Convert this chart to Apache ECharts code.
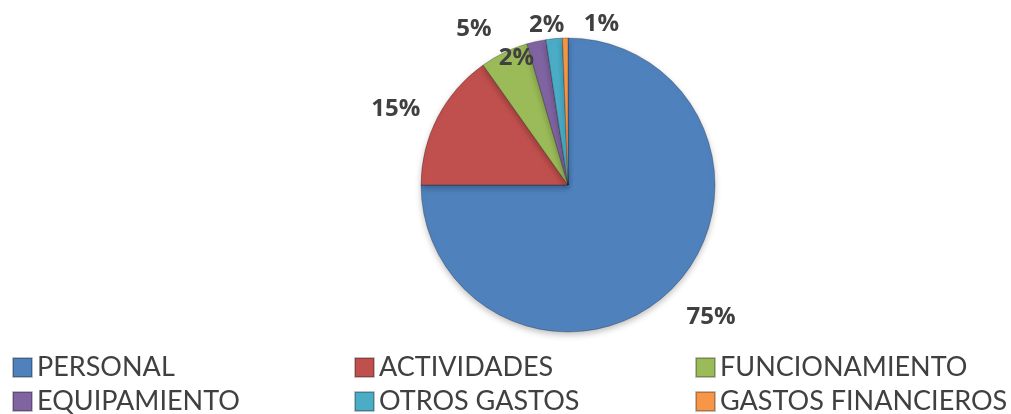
<!DOCTYPE html>
<html>
<head>
<meta charset="utf-8">
<script src="https://cdn.jsdelivr.net/npm/echarts@6/dist/echarts.min.js"></script>
<style>
  html, body { margin: 0; padding: 0; background: #fff; }
  #main { width: 1011px; height: 414px; }
</style>
</head>
<body>
<div id="main"></div>
<script>
// categorias y porcentajes
var categorias = ['PERSONAL', 'ACTIVIDADES', 'FUNCIONAMIENTO', 'EQUIPAMIENTO', 'OTROS GASTOS', 'GASTOS FINANCIEROS'];
var valores = [75.0, 15.2, 5.3, 2.1, 1.8, 0.6];
var etiquetas = ['75%', '15%', '5%', '2%', '2%', '1%'];
var colores = ['#4F81BD', '#C0504D', '#9BBB59', '#8064A2', '#4BACC6', '#F79646'];

var chart = echarts.init(document.getElementById('main'), null, { renderer: 'canvas' });

var datos = [];
for (var i = 0; i < categorias.length; i++) {
  datos.push({
    name: categorias[i],
    value: valores[i],
    itemStyle: { color: colores[i] }
  });
}
// el 2% morado va dentro del pastel
datos[3].label = { position: 'inside' };

function leyenda(left, items) {
  return {
    orient: 'vertical',
    left: left,
    top: 354,
    height: 80,
    padding: 0,
    itemWidth: 19,
    itemHeight: 19,
    itemGap: 7,
    icon: 'rect',
    data: items,
    textStyle: { fontFamily: 'Lato', fontSize: 27, lineHeight: 27, color: '#404040' }
  };
}

var option = {
  animation: false,
  legend: [
    leyenda(12, ['PERSONAL', 'EQUIPAMIENTO']),
    leyenda(354, ['ACTIVIDADES', 'OTROS GASTOS']),
    leyenda(695, ['FUNCIONAMIENTO', 'GASTOS FINANCIEROS'])
  ],
  series: [{
    type: 'pie',
    center: [568, 185],
    radius: 147,
    startAngle: 90,
    clockwise: true,
    avoidLabelOverlap: false,
    itemStyle: {
      borderColor: 'rgba(0,0,0,0.25)',
      borderWidth: 1,
      shadowColor: 'rgba(0,0,0,0.25)',
      shadowBlur: 6,
      shadowOffsetY: 3
    },
    label: {
      show: true,
      position: 'outside',
      formatter: function (p) { return etiquetas[p.dataIndex]; },
      fontFamily: 'Open Sans',
      fontWeight: 'bold',
      fontSize: 24,
      color: '#404040'
    },
    labelLine: { show: false, length: 8, length2: 0 },
    labelLayout: function (p) {
      var ajustes = [[4, 23], [-5, -5], [-4, -16], [-35, -52], [16, -6], [59, -6]];
      return { dx: ajustes[p.dataIndex][0], dy: ajustes[p.dataIndex][1] };
    },
    data: datos
  }]
};
chart.setOption(option);
</script>
</body>
</html>
